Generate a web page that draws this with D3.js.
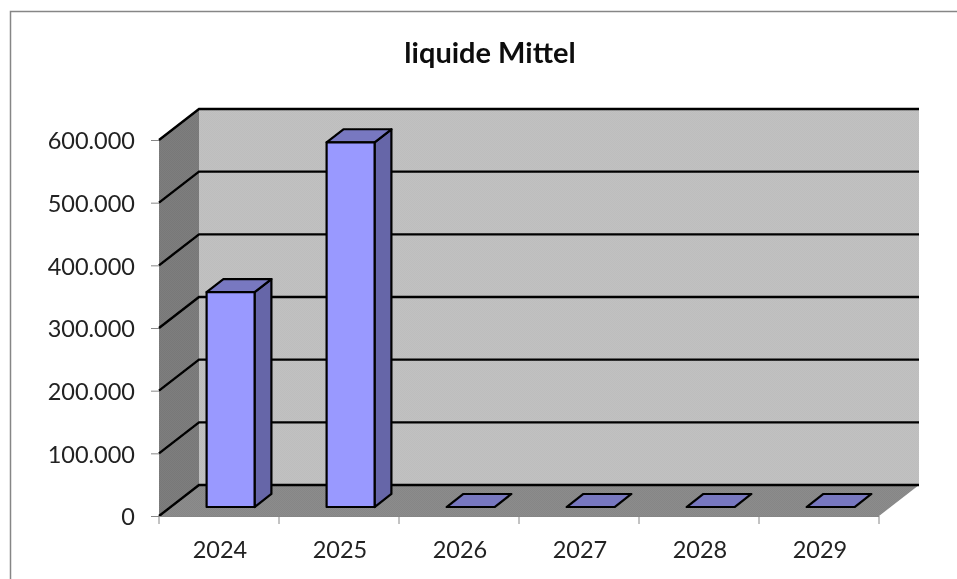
<!DOCTYPE html>
<html>
<head>
<meta charset="utf-8">
<script src="https://cdn.jsdelivr.net/npm/d3@7"></script>
<style>
    html, body { margin: 0; padding: 0; background: #fff; }
    svg { display: block; }
    text { font-family: Lato, "Open Sans", sans-serif; fill: #222; }
    .axis path, .axis line { stroke: #868686; }
    .axis text { font-size: 23.5px; font-family: Lato, "Open Sans", sans-serif; fill: #222; }
</style>
</head>
<body>
<div id="chart"></div>
<script>
var title = 'liquide Mittel';
var years = ['2024', '2025', '2026', '2027', '2028', '2029'];
var values = [343000, 582000, 0, 0, 0, 0];
var yTicks = [0, 100000, 200000, 300000, 400000, 500000, 600000];

var width = 957, height = 579;
var left = 159, right = 879, top_ = 140, bottom = 516;
var depthX = 40, depthY = -31;   // floor depth of the 3d box
var barNear = 0.29, barFar = 0.71; // where the bar sits inside that depth

var de = d3.formatLocale({ decimal: ',', thousands: '.', grouping: [3], currency: ['', ' €'] });

var x = d3.scaleBand().domain(years).range([left, right]).paddingInner(0.6).paddingOuter(0.3);
var xTick = d3.scaleBand().domain(years).range([left, right]);
var y = d3.scaleLinear().domain([0, 600000]).range([bottom, top_]);

var svg = d3.select('#chart').append('svg').attr('width', width).attr('height', height);
var defs = svg.append('defs');

// dither of the old chart walls
function dither(id, c0, c1) {
    var p = defs.append('pattern').attr('id', id)
        .attr('width', 2).attr('height', 2).attr('patternUnits', 'userSpaceOnUse');
    p.append('rect').attr('width', 2).attr('height', 2).attr('fill', c0);
    p.append('rect').attr('width', 1).attr('height', 1).attr('fill', c1);
    p.append('rect').attr('x', 1).attr('y', 1).attr('width', 1).attr('height', 1).attr('fill', c1);
}
dither('wallFill', '#c1c1c1', '#bdbdbd');
dither('sideFill', '#7e7e7e', '#787878');
dither('floorFill', '#8c8c8c', '#868686');

// the reference is a slightly soft screenshot
defs.append('filter').attr('id', 'soft').append('feGaussianBlur').attr('stdDeviation', 0.4);

var root = svg.append('g').attr('filter', 'url(#soft)');

// chart frame, only top and left show in the crop
root.append('path').attr('d', 'M10.5,585V11.5H965').attr('fill', 'none').attr('stroke', '#868686').attr('stroke-width', 1.5);

root.append('text').attr('x', 490).attr('y', 63).attr('text-anchor', 'middle')
    .style('font-size', '29px').style('font-weight', 700).style('fill', '#111').text(title);

function poly(pts) { return 'M' + pts.map(function (p) { return p.join(','); }).join('L') + 'Z'; }

var yMax = y(600000), y0 = y(0);

// back wall
root.append('path').attr('fill', 'url(#wallFill)')
    .attr('d', poly([[left + depthX, yMax + depthY], [right + depthX, yMax + depthY], [right + depthX, y0 + depthY], [left + depthX, y0 + depthY]]));
// side wall
root.append('path').attr('fill', 'url(#sideFill)')
    .attr('d', poly([[left, yMax], [left + depthX, yMax + depthY], [left + depthX, y0 + depthY], [left, y0]]));
// floor
root.append('path').attr('fill', 'url(#floorFill)')
    .attr('d', poly([[left, y0], [left + depthX, y0 + depthY], [right + depthX, y0 + depthY], [right, y0]]));

// grid lines along side wall and back wall
root.append('g').selectAll('path').data(yTicks).join('path')
    .attr('fill', 'none').attr('stroke', '#000').attr('stroke-width', 2.4)
    .attr('d', function (d) {
        return 'M' + left + ',' + y(d) + 'L' + (left + depthX) + ',' + (y(d) + depthY) + 'H' + (right + depthX);
    });

// bars
var bars = root.append('g').selectAll('g').data(years).join('g');
var nx = depthX * barNear, ny = depthY * barNear;
var fx = depthX * barFar, fy = depthY * barFar;
var bw = x.bandwidth();
bars.each(function (yr, i) {
    var g = d3.select(this);
    var xl = x(yr) + nx, xr = xl + bw;
    var yb = y0 + ny, yt = y(values[i]) + ny;
    var dx = fx - nx, dy = fy - ny;
    var edge = function (s) { return s.attr('stroke', '#000').attr('stroke-width', 2.2).attr('stroke-linejoin', 'round'); };
    if (values[i] > 0) {
        g.append('path').attr('fill', '#6666a8').call(edge)
            .attr('d', poly([[xr, yt], [xr + dx, yt + dy], [xr + dx, yb + dy], [xr, yb]]));
    }
    g.append('path').attr('fill', '#7878c0').call(edge)
        .attr('d', poly([[xl, yt], [xl + dx, yt + dy], [xr + dx, yt + dy], [xr, yt]]));
    if (values[i] > 0) {
        g.append('path').attr('fill', '#9999ff').call(edge)
            .attr('d', poly([[xl, yt], [xr, yt], [xr, yb], [xl, yb]]));
    }
});

// axes
var yAxis = d3.axisLeft(y).tickValues(yTicks).tickSize(8).tickPadding(16).tickFormat(de.format(',.0f'));
var gy = root.append('g').attr('class', 'axis').attr('transform', 'translate(' + left + ',0)').call(yAxis);
gy.select('.domain').remove();
gy.selectAll('.tick text').attr('dy', '0.38em');

var xAxis = d3.axisBottom(xTick).tickSize(0).tickPadding(25);
var gx = root.append('g').attr('class', 'axis').attr('transform', 'translate(0,' + bottom + ')').call(xAxis);
gx.select('.domain').attr('d', 'M' + left + ',0.5H' + right);
gx.selectAll('.tick text').attr('dx', 1);
// ticks sit between the categories
gx.selectAll('.sep').data(d3.range(years.length + 1)).join('line').attr('class', 'sep')
    .attr('x1', function (d) { return left + d * xTick.step(); })
    .attr('x2', function (d) { return left + d * xTick.step(); })
    .attr('y1', 0).attr('y2', 8);
</script>
</body>
</html>
